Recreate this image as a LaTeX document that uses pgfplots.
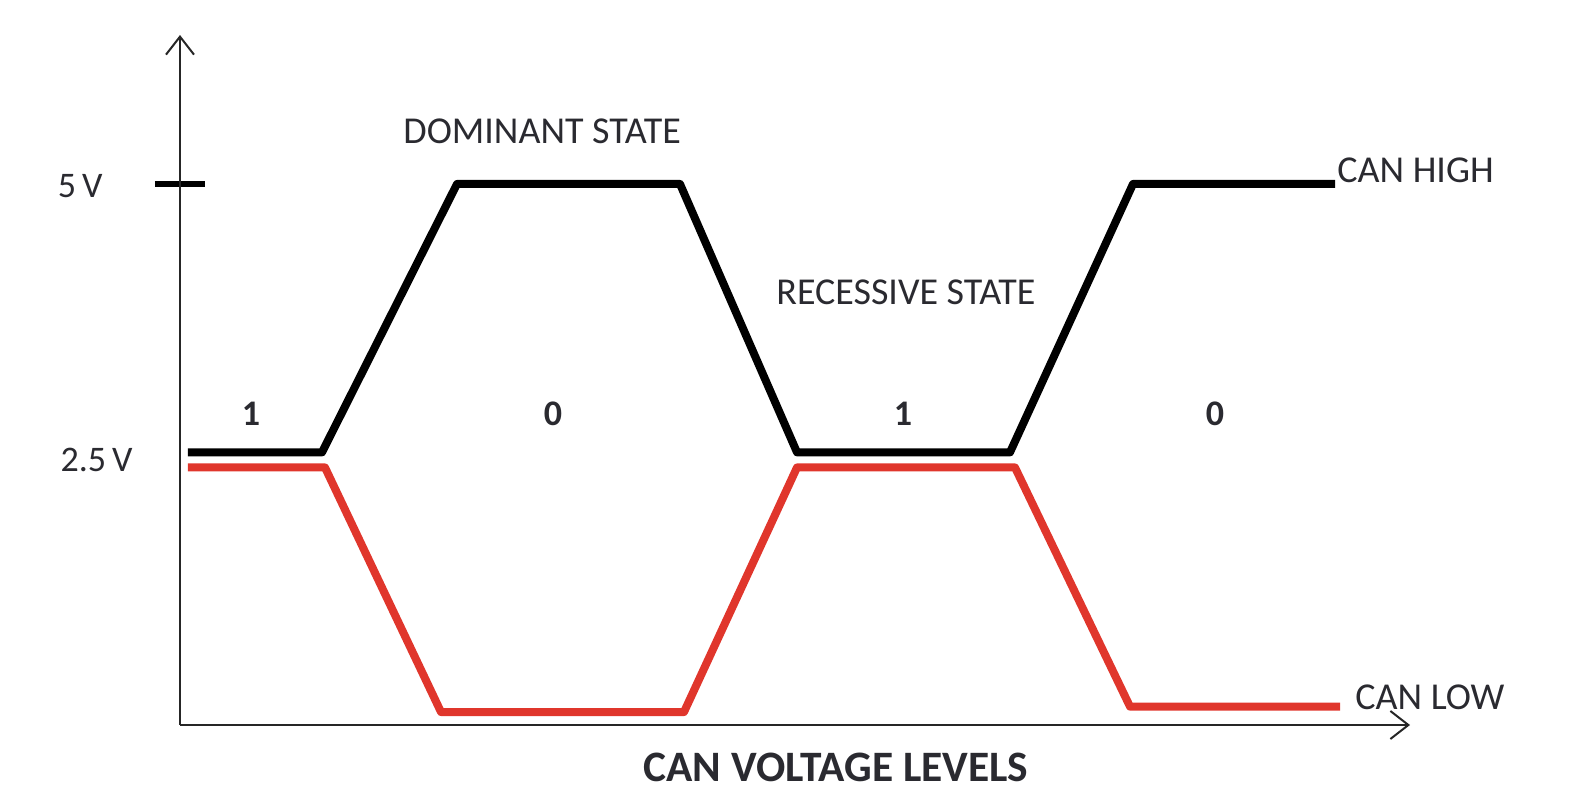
\documentclass[border=0pt]{standalone}
\usepackage{fontspec}
\setmainfont{Carlito}
\usepackage{pgfplots}
\pgfplotsset{compat=1.18}
\usetikzlibrary{arrows.meta}
\definecolor{canred}{HTML}{E0362C}
\definecolor{txt}{HTML}{2A2A30}
\begin{document}
\begin{tikzpicture}
\begin{axis}[
  x=0.5pt, y=54.1pt,
  xmin=0, xmax=1230, ymin=0, ymax=6.377,
  axis lines=left,
  axis line style={line width=1.4pt, black!85, -{Straight Barb[length=9pt,width=14pt,line width=1pt]}},
  xtick=\empty,
  ytick={5}, yticklabels={},
  tick align=center,
  major tick length=25pt,
  ytick style={line width=3pt, black},
  clip=false,
]
% CAN HIGH
\addplot[black, line width=4pt, line join=round] coordinates {
  (8,2.52) (142,2.52) (277,5.0) (500,5.0) (617,2.52) (830,2.52) (953,5.0) (1155,5.0)
};
% CAN LOW
\addplot[canred, line width=4pt, line join=round] coordinates {
  (8,2.38) (145,2.38) (261,0.12) (504,0.12) (617,2.38) (835,2.38) (950,0.17) (1160,0.17)
};
\path (axis cs:-180,-0.758) rectangle (axis cs:1389,6.7006);
\begin{scope}[every node/.style={text=txt, font=\fontsize{19}{21}\selectfont, inner sep=0pt}]
\node[anchor=east, font=\fontsize{18}{20}\selectfont] at (axis cs:-77,4.98) {5\,V};
\node[anchor=east, font=\fontsize{18}{20}\selectfont] at (axis cs:-47,2.448) {2.5\,V};
\node[anchor=west] at (axis cs:223,5.49) {DOMINANT STATE};
\node[anchor=west] at (axis cs:596,3.999) {RECESSIVE STATE};
\node[anchor=west] at (axis cs:1157,5.129) {CAN HIGH};
\node[anchor=west] at (axis cs:1175,0.259) {CAN LOW};
\node[font=\fontsize{18}{20}\selectfont\bfseries] at (axis cs:71,2.874) {1};
\node[font=\fontsize{18}{20}\selectfont\bfseries] at (axis cs:373,2.874) {0};
\node[font=\fontsize{18}{20}\selectfont\bfseries] at (axis cs:723,2.874) {1};
\node[font=\fontsize{18}{20}\selectfont\bfseries] at (axis cs:1035,2.874) {0};
\node[font=\fontsize{21.7}{23}\selectfont\bfseries] at (axis cs:656,-0.388) {CAN VOLTAGE LEVELS};
\end{scope}
\end{axis}
\end{tikzpicture}
\end{document}
